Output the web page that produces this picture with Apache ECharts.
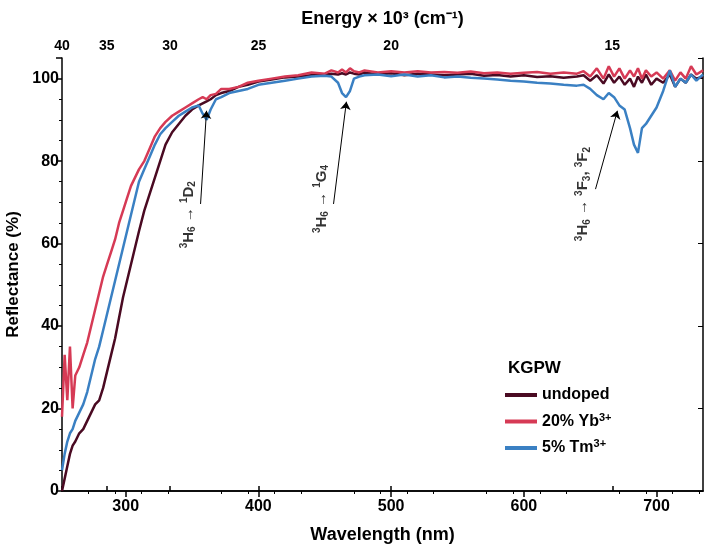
<!DOCTYPE html>
<html>
<head>
<meta charset="utf-8">
<script src="https://cdn.jsdelivr.net/npm/echarts@6/dist/echarts.min.js"></script>
<style>html,body{margin:0;padding:0;background:#fff}#chart{width:704px;height:544px}</style>
</head>
<body>
<div id="chart"></div>
<script>
// wavelength (nm) and reflectance (%)
var wl = [252,254,256,258,260,262,265,268,271,274,277,280,283,286,289,292,295,298,301,304,307,310,314,318,322,326,330,335,340,345,350,355,358,361,364,368,372,378,385,392,400,410,420,430,440,450,455,460,463,466,469,472,476,480,490,500,510,520,530,540,550,560,570,580,590,600,610,620,630,640,645,650,655,660,664,668,672,676,680,683,686,689,692,696,700,705,710,714,718,722,726,730,735];
var undoped = [0,3,6,9,11,12,14,15,17,19,21,22,25,29,33,37,42,47,51,55,59,63,68,72,76,80,84,87,89,91,92.5,93.5,94,94.5,95,96,96.5,97,98,98.5,99.3,99.8,100.3,100.5,100.8,101,101.2,101,101.3,101,101.5,101.2,101,101.5,101,101.3,100.8,101.2,101,100.8,101,101.2,100.7,100.9,100.5,100.8,100.4,100.6,100.2,100.5,100.8,99.5,100.8,98.8,101,99,100.5,98.5,100,98,100.5,99,101,98.5,100,99,101,98,100,99,101,100,100.5];
var yb20 = [18,33,22,35,20,28,30,33,36,40,44,48,52,55,58,61,65,68,71,74,76,78,80,83,86,88,89.5,91,92,93,94,95,95.5,95,96,96.3,97.5,97.5,98,99,99.5,100,100.5,100.8,101.5,101.2,102,101.5,102.2,101.5,102.5,101.8,101.5,102,101.5,101.8,101.5,101.8,101.5,101.6,101.4,101.7,101.3,101.5,101.2,101.4,101.6,101.2,101.5,101.2,101.8,100.5,102.5,100,103,100.5,102.5,100,102,100.5,102.5,100,102,100.5,101.5,100,102,99.5,101.5,100,103,101,102];
var tm5 = [5,9,12,14,15,17,19,21,24,28,32,35,39,43,47,51,55,59,63,67,71,75,78,81,84,86.5,88,89.5,91,92,93,93.5,91.5,90,92.5,95,95.5,96.5,97,97.5,98.5,99,99.5,100,100.5,100.7,100.5,99,96.5,95.5,97,100,100.5,100.8,101,100.6,101,100.5,100.8,100.3,100.5,100.2,100,99.8,99.5,99.3,99,98.8,98.5,98.3,98.5,97.5,96,95,96.5,95.5,93.5,92.5,88,84,82,88,89,91,93,97,102,98,100,99,101,99.5,101];
var energyTicks = [40,35,30,25,20,15];
// annotation arrows [from, to] in data coords, and label anchors
var arrows = [[[356.4,69.6],[360.9,92.2]],[[456.6,69.6],[466.3,94.4]],[[654,73.2],[670.5,92.2]]];
var notes = [
  {pos:[347.5,67], text:'{sup|3}{b|H}{sub|6}{b| → }{sup|1}{b|D}{sub|2}'},
  {pos:[447.7,70.8], text:'{sup|3}{b|H}{sub|6}{b| → }{sup|1}{b|G}{sub|4}'},
  {pos:[644.5,72], text:'{sup|3}{b|H}{sub|6}{b| → }{sup|3}{b|F}{sub|3}{b|, }{sup|3}{b|F}{sub|2}'}
];

function pairs(v){ return wl.map(function(x,i){ return [x,v[i]]; }); }
var font = 'Liberation Sans';
var xMin = 252, xMax = 735;
var energyPos = energyTicks.map(function(e){ return Math.max(xMin, 1e4/e); });
var myChart = echarts.init(document.getElementById('chart'));
var rich = {
  b:{fontSize:15,fontWeight:'bold',color:'#000',fontFamily:font},
  sup:{fontSize:10,fontWeight:'bold',color:'#000',verticalAlign:'top',padding:[0,0,8,0],fontFamily:font},
  sub:{fontSize:10,fontWeight:'bold',color:'#000',verticalAlign:'bottom',padding:[8,0,0,0],fontFamily:font}
};
var legRich = {
  n:{fontSize:16,fontWeight:'bold',fontFamily:font},
  s:{fontSize:11,fontWeight:'bold',fontFamily:font,verticalAlign:'top',padding:[0,0,8,0]}
};
var option = {
  animation:false,
  textStyle:{fontFamily:font},
  grid:{left:62,right:1,top:58,bottom:53,outerBoundsMode:'none'},
  title:{text:'KGPW',left:503,top:355,textStyle:{fontSize:17,fontWeight:'bold',color:'#000',fontFamily:font}},
  legend:{
    orient:'vertical',left:500,top:382,itemWidth:32,itemHeight:4,itemGap:9,icon:'rect',
    data:['undoped','20% Yb','5% Tm'],
    formatter:function(n){
      if(n==='20% Yb') return '{n|20% Yb}{s|3+}';
      if(n==='5% Tm') return '{n|5% Tm}{s|3+}';
      return '{n|'+n+'}';
    },
    textStyle:{rich:legRich,color:'#000'}
  },
  xAxis:[{
    type:'value',min:xMin,max:xMax,interval:100,
    name:'Wavelength (nm)',nameLocation:'middle',nameGap:35,
    nameTextStyle:{fontSize:18,fontWeight:'bold',color:'#000'},
    axisLine:{lineStyle:{color:'#000',width:1.5}},
    axisTick:{length:6,lineStyle:{width:1.5},customValues:[300,400,500,600,700]},
    axisLabel:{fontSize:16,fontWeight:'bold',color:'#000',customValues:[300,400,500,600,700]},
    minorTick:{show:true,splitNumber:5,length:3,lineStyle:{color:'#000'}},
    splitLine:{show:false}
  },{
    type:'value',min:xMin,max:xMax,position:'top',
    name:'Energy × 10³ (cm⁻¹)',nameLocation:'middle',nameGap:30,
    nameTextStyle:{fontSize:18,fontWeight:'bold',color:'#000'},
    axisLine:{lineStyle:{color:'#000',width:1.5}},
    axisTick:{length:5,lineStyle:{width:1.5},customValues:energyPos},
    axisLabel:{fontSize:14,fontWeight:'bold',color:'#000',margin:5,
      customValues:energyPos,
      formatter:function(v){return Math.round(1e4/v);}},
    splitLine:{show:false}
  }],
  yAxis:[{
    type:'value',min:0,max:105,interval:20,
    name:'Reflectance (%)',nameLocation:'middle',nameGap:26,
    nameTextStyle:{fontSize:17,fontWeight:'bold',color:'#000'},
    axisLine:{show:true,lineStyle:{color:'#000',width:1.5}},
    axisTick:{show:true,length:6,lineStyle:{width:1.5}},
    axisLabel:{fontSize:16,fontWeight:'bold',color:'#000',showMaxLabel:false,margin:3},
    minorTick:{show:true,splitNumber:4,length:3,lineStyle:{color:'#000'}},
    splitLine:{show:false}
  },{
    type:'value',min:0,max:105,interval:20,position:'right',
    axisLine:{show:true,lineStyle:{color:'#000',width:1.5}},
    axisTick:{show:true,inside:true,length:5},
    axisLabel:{show:false},splitLine:{show:false}
  }],
  series:[
    {name:'undoped',type:'line',showSymbol:false,data:pairs(undoped),color:'#4a0a22',lineStyle:{width:2.5,color:'#4a0a22'}},
    {name:'20% Yb',type:'line',showSymbol:false,data:pairs(yb20),color:'#d63a55',lineStyle:{width:2.5,color:'#d63a55'}},
    {name:'5% Tm',type:'line',showSymbol:false,data:pairs(tm5),color:'#3a80c3',lineStyle:{width:2.5,color:'#3a80c3'},
      markLine:{silent:true,symbol:['none','arrow'],symbolSize:8,label:{show:false},
        lineStyle:{color:'#000',width:1,type:'solid'},
        data:arrows.map(function(a){return [{coord:a[0]},{coord:a[1]}];})}},
    {name:'notes',type:'scatter',symbolSize:0,silent:true,
      data:notes.map(function(n){return {value:n.pos,label:{show:true,position:'inside',rotate:90,formatter:n.text,rich:rich}};})}
  ]
};
myChart.setOption(option);
</script>
</body>
</html>
